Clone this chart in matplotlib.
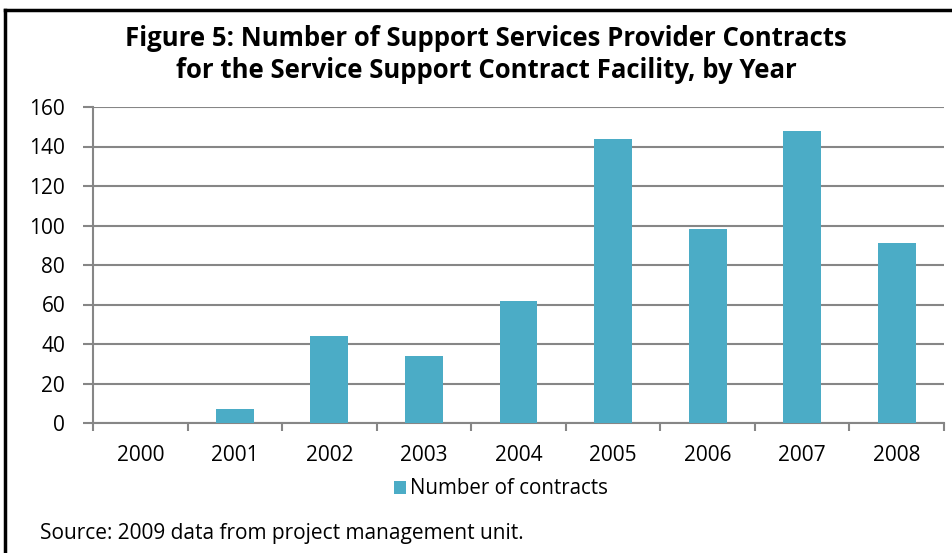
import matplotlib
matplotlib.use('Agg')
import matplotlib.pyplot as plt
from matplotlib.lines import Line2D
import numpy as np

years = ['2000', '2001', '2002', '2003', '2004', '2005', '2006', '2007', '2008']
contracts = [0, 7, 44, 34, 62, 144, 98, 148, 91]
y_ticks = [0, 20, 40, 60, 80, 100, 120, 140, 160]

BAR_COLOR = '#4BACC6'
GRID_COLOR = '#868686'

plt.rcParams['font.family'] = ['Open Sans', 'DejaVu Sans']

fig = plt.figure(figsize=(9.52, 5.53), dpi=100)
ax = fig.add_axes([93 / 952, 1 - 423 / 553, (944 - 93) / 952, (423 - 107) / 553])

x = np.arange(len(years))
ax.bar(x, contracts, width=0.4, color=BAR_COLOR, zorder=3, label='Number of contracts')

ax.set_xlim(-0.5, len(years) - 0.5)
ax.set_ylim(0, 160)
ax.set_yticks(y_ticks)
ax.set_yticklabels([str(v) for v in y_ticks])
ax.yaxis.grid(True, color=GRID_COLOR, linewidth=1.5, zorder=0)

ax.set_xticks(x)
ax.set_xticklabels(years)
ax.set_xticks(np.arange(-0.5, len(years)), minor=True)
ax.tick_params(axis='x', which='major', length=0, pad=16, labelsize=15)
ax.tick_params(axis='x', which='minor', length=6, width=1.5, color=GRID_COLOR)
ax.tick_params(axis='y', length=7, width=1.5, color=GRID_COLOR, pad=13, labelsize=15)

for side in ['top', 'right']:
    ax.spines[side].set_visible(False)
for side in ['left', 'bottom']:
    ax.spines[side].set_color(GRID_COLOR)
    ax.spines[side].set_linewidth(1.5)

fig.text(486 / 952, 1 - 39 / 553, 'Figure 5: Number of Support Services Provider Contracts',
         ha='center', va='center', fontsize=18.5, fontweight='bold')
fig.text(486 / 952, 1 - 71 / 553, 'for the Service Support Contract Facility, by Year',
         ha='center', va='center', fontsize=18.5, fontweight='bold')

fig.legend(loc='center', bbox_to_anchor=(501 / 952, 1 - 489 / 553), frameon=False,
           fontsize=14.8, handlelength=0.6, handleheight=0.6, handletextpad=0.2)

fig.text(40 / 952, 1 - 534 / 553, 'Source: 2009 data from project management unit.',
         ha='left', va='center', fontsize=15)

# frame around the figure (top and left edges visible)
fig.add_artist(Line2D([5 / 952, 1], [1 - 10 / 553, 1 - 10 / 553], color='black',
                      linewidth=2.5, transform=fig.transFigure))
fig.add_artist(Line2D([5 / 952, 5 / 952], [0, 1 - 10 / 553], color='black',
                      linewidth=2.5, transform=fig.transFigure))

fig.savefig('out.png', dpi=100)
